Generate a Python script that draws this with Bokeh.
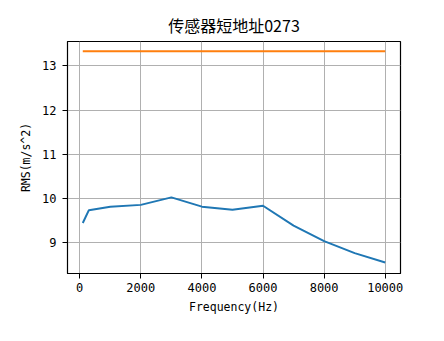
from bokeh.plotting import figure
from bokeh.embed import file_html
from bokeh.resources import INLINE
from bokeh.models import FixedTicker, Range1d

title_text = "传感器短地址0273"
x_label = "Frequency(Hz)"
y_label = "RMS(m/s^2)"

freq = [100, 300, 1000, 2000, 3000, 4000, 5000, 6000, 7000, 8000, 9000, 10000]
rms = [9.45, 9.74, 9.82, 9.86, 10.03, 9.82, 9.75, 9.84, 9.39, 9.04, 8.77, 8.56]
limit = [13.33] * len(freq)

x_ticks = [0, 2000, 4000, 6000, 8000, 10000]
y_ticks = [9, 10, 11, 12, 13]

latin = "DejaVu Sans Mono"

p = figure(width=444, height=341, output_backend="svg", toolbar_location=None,
           x_range=Range1d(-400, 10500), y_range=Range1d(8.31, 13.55),
           min_border_left=67, min_border_right=44, min_border_top=41, min_border_bottom=68)

p.line(freq, rms, line_color="#1f77b4", line_width=2)
p.line(freq, limit, line_color="#ff7f0e", line_width=2)

p.title.text = title_text
p.title.align = "center"
p.title.text_font = "Noto Sans CJK SC"
p.title.text_font_size = "16px"
p.title.text_font_style = "normal"
p.title.text_color = "black"

p.outline_line_color = "black"
p.outline_line_width = 1.2
p.outline_line_alpha = 1

for ax, ticks in ((p.xaxis, x_ticks), (p.yaxis, y_ticks)):
    ax.ticker = FixedTicker(ticks=ticks)
    ax.axis_line_color = "black"
    ax.major_tick_line_color = "black"
    ax.major_tick_out = 5
    ax.major_tick_in = 0
    ax.minor_tick_line_color = None
    ax.major_label_text_font = latin
    ax.major_label_text_font_size = "12px"
    ax.major_label_text_color = "black"
    ax.axis_label_text_font = latin
    ax.axis_label_text_font_size = "11.5px"
    ax.axis_label_text_font_style = "normal"
    ax.axis_label_text_color = "black"

p.xaxis.axis_label = x_label
p.yaxis.axis_label = y_label
p.xaxis.major_label_standoff = 4
p.yaxis.major_label_standoff = 6
p.xaxis.axis_label_standoff = 5
p.yaxis.axis_label_standoff = 6

p.grid.grid_line_color = "#b0b0b0"
p.grid.grid_line_width = 1
p.xgrid.ticker = FixedTicker(ticks=x_ticks)
p.ygrid.ticker = FixedTicker(ticks=y_ticks)

p.background_fill_color = "white"
p.border_fill_color = "white"

open("out.html", "w").write(file_html(p, INLINE))
